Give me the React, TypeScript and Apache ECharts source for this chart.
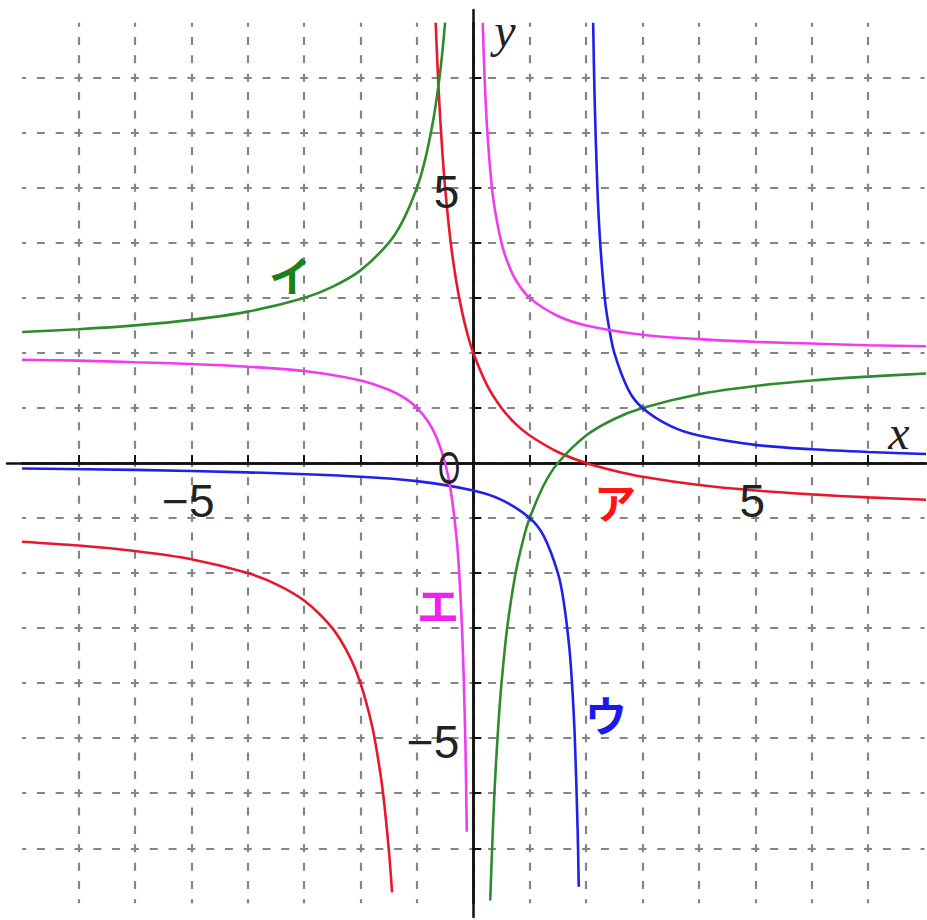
import React, { useEffect, useRef } from "react";
import * as echarts from "echarts";

// ---- data ----
const GRID_VALUES: number[] = [-7, -6, -5, -4, -3, -2, -1, 0, 1, 2, 3, 4, 5, 6, 7];
const LABELLED_VALUES: number[] = [-5, 5];
const CURVE_NAMES: string[] = ["ア", "イ", "ウ", "エ"];

// ア (red)
const A_LEFT: [number, number][] = [
  [-8, -1.43], [-7, -1.5], [-6, -1.6], [-5, -1.75], [-4, -2.0], [-3.5, -2.2], [-3, -2.5],
  [-2.5, -3.0], [-2.2, -3.5], [-2, -4.0], [-1.8, -4.75], [-1.7, -5.3], [-1.6, -6.0],
  [-1.5, -7.0], [-1.44, -7.8],
];
const A_RIGHT: [number, number][] = [
  [-0.667, 8.0], [-0.64, 7.33], [-0.6, 6.5], [-0.55, 5.67], [-0.5, 5.0], [-0.4, 4.0],
  [-0.3, 3.29], [-0.2, 2.75], [-0.1, 2.33], [0, 2.0], [0.25, 1.4], [0.5, 1.0], [0.75, 0.71],
  [1, 0.5], [1.5, 0.2], [2, 0], [2.5, -0.14], [3, -0.25], [4, -0.4], [5, -0.5], [6, -0.57],
  [7, -0.625], [8.1, -0.67],
];
// イ (green)
const I_LEFT: [number, number][] = [
  [-8, 2.38], [-7, 2.43], [-6, 2.5], [-5, 2.6], [-4, 2.75], [-3, 3.0], [-2.5, 3.2], [-2, 3.5],
  [-1.5, 4.0], [-1.25, 4.4], [-1, 5.0], [-0.85, 5.53], [-0.7, 6.29], [-0.6, 7.0],
  [-0.55, 7.45], [-0.5, 8.0],
];
const I_RIGHT: [number, number][] = [
  [0.3, -7.95], [0.33, -7.1], [0.37, -6.1], [0.4, -5.5], [0.45, -4.67], [0.5, -4.0],
  [0.6, -3.0], [0.75, -2.0], [0.9, -1.33], [1, -1.0], [1.25, -0.4], [1.5, 0], [2, 0.5],
  [2.5, 0.8], [3, 1.0], [4, 1.25], [5, 1.4], [6, 1.5], [7, 1.57], [8.1, 1.63],
];
// ウ (blue)
const U_LEFT: [number, number][] = [
  [-8, -0.1], [-6, -0.125], [-4, -0.17], [-2, -0.25], [-1, -0.33], [0, -0.5], [0.5, -0.67],
  [1, -1.0], [1.25, -1.33], [1.5, -2.0], [1.6, -2.5], [1.7, -3.33], [1.75, -4.0],
  [1.8, -5.0], [1.85, -6.67], [1.87, -7.7],
];
const U_RIGHT: [number, number][] = [
  [2.125, 8.0], [2.15, 6.67], [2.2, 5.0], [2.25, 4.0], [2.33, 3.0], [2.4, 2.5], [2.5, 2.0],
  [2.75, 1.33], [3, 1.0], [3.5, 0.67], [4, 0.5], [5, 0.33], [6, 0.25], [7, 0.2], [8.1, 0.16],
];
// エ (magenta)
const E_LEFT: [number, number][] = [
  [-8, 1.875], [-7, 1.86], [-6, 1.83], [-5, 1.8], [-4, 1.75], [-3, 1.67], [-2, 1.5],
  [-1.5, 1.33], [-1.2, 1.17], [-1, 1.0], [-0.8, 0.75], [-0.65, 0.46], [-0.5, 0],
  [-0.4, -0.5], [-0.3, -1.33], [-0.25, -2.0], [-0.2, -3.0], [-0.17, -3.9], [-0.14, -5.1],
  [-0.115, -6.7],
];
const E_RIGHT: [number, number][] = [
  [0.167, 8.0], [0.2, 7.0], [0.25, 6.0], [0.33, 5.0], [0.4, 4.5], [0.5, 4.0], [0.6, 3.67],
  [0.75, 3.33], [1, 3.0], [1.5, 2.67], [2, 2.5], [3, 2.33], [4, 2.25], [5, 2.2], [6, 2.17],
  [7, 2.14], [8.1, 2.12],
];

// ---- layout / style ----
const W = 927;
const H = 920;
const OX = 473.3;
const OY = 463;
const UX = 56.4;
const UY = 55.04;
const RANGE = 8;

const CURVE_COLORS = ["#e8182c", "#2e8b2e", "#2020e8", "#f03cf0"];
const LABEL_COLORS = ["#ff1414", "#1a801a", "#1a1aee", "#ee22ee"];
const LABEL_POS: [number, number][] = [
  [615, 500],
  [290, 273],
  [606, 713],
  [438, 603],
];

export default function App() {
  const ref = useRef<HTMLDivElement>(null);

  useEffect(() => {
    if (!ref.current) return;
    const chart = echarts.init(ref.current, undefined, { renderer: "svg" });

    const gLeft = OX - RANGE * UX;
    const gTop = OY - RANGE * UY;
    const gW = 2 * RANGE * UX;
    const gH = 2 * RANGE * UY;

    // axis-line grid (extends a little beyond the dashed box)
    const bLeft = 7, bRight = W, bTop = 10, bBottom = 917;

    const dashH = { color: "#858585", width: 2.2, type: [8, UX / 3 - 8], dashOffset: 4 };
    const dashV = { color: "#858585", width: 2.2, type: [8, UY / 3 - 8], dashOffset: 4 };

    const txt = (v: number) => (v < 0 ? "−" + Math.abs(v) : String(v));

    const branches: [number, [number, number][]][] = [
      [0, A_LEFT], [0, A_RIGHT],
      [1, I_LEFT], [1, I_RIGHT],
      [2, U_LEFT], [2, U_RIGHT],
      [3, E_LEFT], [3, E_RIGHT],
    ];

    const series = branches.map(([k, data]) => ({
      type: "line",
      name: CURVE_NAMES[k],
      xAxisIndex: 0,
      yAxisIndex: 0,
      data,
      showSymbol: false,
      smooth: 0.3,
      clip: true,
      lineStyle: { color: CURVE_COLORS[k], width: 2.6 },
      itemStyle: { color: CURVE_COLORS[k] },
      z: 5,
    }));

    const numFont = 'normal 46px "Liberation Sans", Arial, sans-serif';
    const textBase = {
      font: numFont,
      fill: "#222",
      textVerticalAlign: "middle",
    };

    const axisLabels = [
      ...LABELLED_VALUES.map((v) => ({
        type: "text",
        x: OX + v * UX - 3,
        y: OY + 38,
        style: { ...textBase, text: txt(v), textAlign: "center" },
        z: 10,
      })),
      ...LABELLED_VALUES.map((v) => ({
        type: "text",
        x: OX - 14,
        y: OY - v * UY + 4,
        style: { ...textBase, text: txt(v), textAlign: "right" },
        z: 10,
      })),
    ];

    const common = { outerBoundsMode: "none", containLabel: false };

    chart.setOption({
      animation: false,
      backgroundColor: "#ffffff",
      grid: [
        { ...common, left: gLeft, top: gTop, width: gW, height: gH },
        { ...common, left: bLeft, top: bTop, width: bRight - bLeft, height: bBottom - bTop },
      ],
      xAxis: [
        {
          type: "value",
          gridIndex: 0,
          min: -RANGE,
          max: RANGE,
          interval: 1,
          axisLine: { show: true, onZero: true, lineStyle: { color: "#111", width: 2.5 } },
          axisTick: {
            show: true,
            inside: true,
            length: 8,
            customValues: GRID_VALUES,
            lineStyle: { color: "#111", width: 2 },
          },
          axisLabel: { show: false },
          splitLine: { show: true, lineStyle: dashV },
        },
        {
          type: "value",
          gridIndex: 1,
          min: (bLeft - OX) / UX,
          max: (bRight - OX) / UX,
          axisLine: { show: true, onZero: true, lineStyle: { color: "#111", width: 2.5 } },
          axisTick: { show: false },
          axisLabel: { show: false },
          splitLine: { show: false },
        },
      ],
      yAxis: [
        {
          type: "value",
          gridIndex: 0,
          min: -RANGE,
          max: RANGE,
          interval: 1,
          axisLine: { show: true, onZero: true, lineStyle: { color: "#111", width: 2.5 } },
          axisTick: {
            show: true,
            inside: true,
            length: 8,
            customValues: GRID_VALUES,
            lineStyle: { color: "#111", width: 2 },
          },
          axisLabel: { show: false },
          splitLine: { show: true, lineStyle: dashH },
        },
        {
          type: "value",
          gridIndex: 1,
          min: (OY - bBottom) / UY,
          max: (OY - bTop) / UY,
          axisLine: { show: true, onZero: true, lineStyle: { color: "#111", width: 2.5 } },
          axisTick: { show: false },
          axisLabel: { show: false },
          splitLine: { show: false },
        },
      ],
      graphic: [
        ...axisLabels,
        {
          type: "text",
          x: 899,
          y: 432,
          style: {
            text: "x",
            font: 'italic 48px "Liberation Serif", "DejaVu Serif", serif',
            fill: "#222",
            textAlign: "center",
            textVerticalAlign: "middle",
          },
          z: 10,
        },
        {
          type: "text",
          x: 505,
          y: 30,
          style: {
            text: "y",
            font: 'italic 48px "Liberation Serif", "DejaVu Serif", serif',
            fill: "#222",
            textAlign: "center",
            textVerticalAlign: "middle",
          },
          z: 10,
        },
        {
          type: "text",
          x: 449,
          y: 468,
          scaleX: 0.62,
          originX: 0,
          style: {
            text: "O",
            font: numFont,
            fill: "#222",
            textAlign: "center",
            textVerticalAlign: "middle",
          },
          z: 10,
        },
        ...CURVE_NAMES.map((name, k) => ({
          type: "text",
          x: LABEL_POS[k][0],
          y: LABEL_POS[k][1],
          style: {
            text: name,
            font: 'bold 42px "Noto Sans CJK JP", sans-serif',
            fill: LABEL_COLORS[k],
            textAlign: "center",
            textVerticalAlign: "middle",
          },
          z: 10,
        })),
      ],
      series,
    });

    return () => chart.dispose();
  }, []);

  return (
    <div
      ref={ref}
      style={{ position: "fixed", left: 0, top: 0, width: W, height: H, background: "#fff" }}
    />
  );
}
